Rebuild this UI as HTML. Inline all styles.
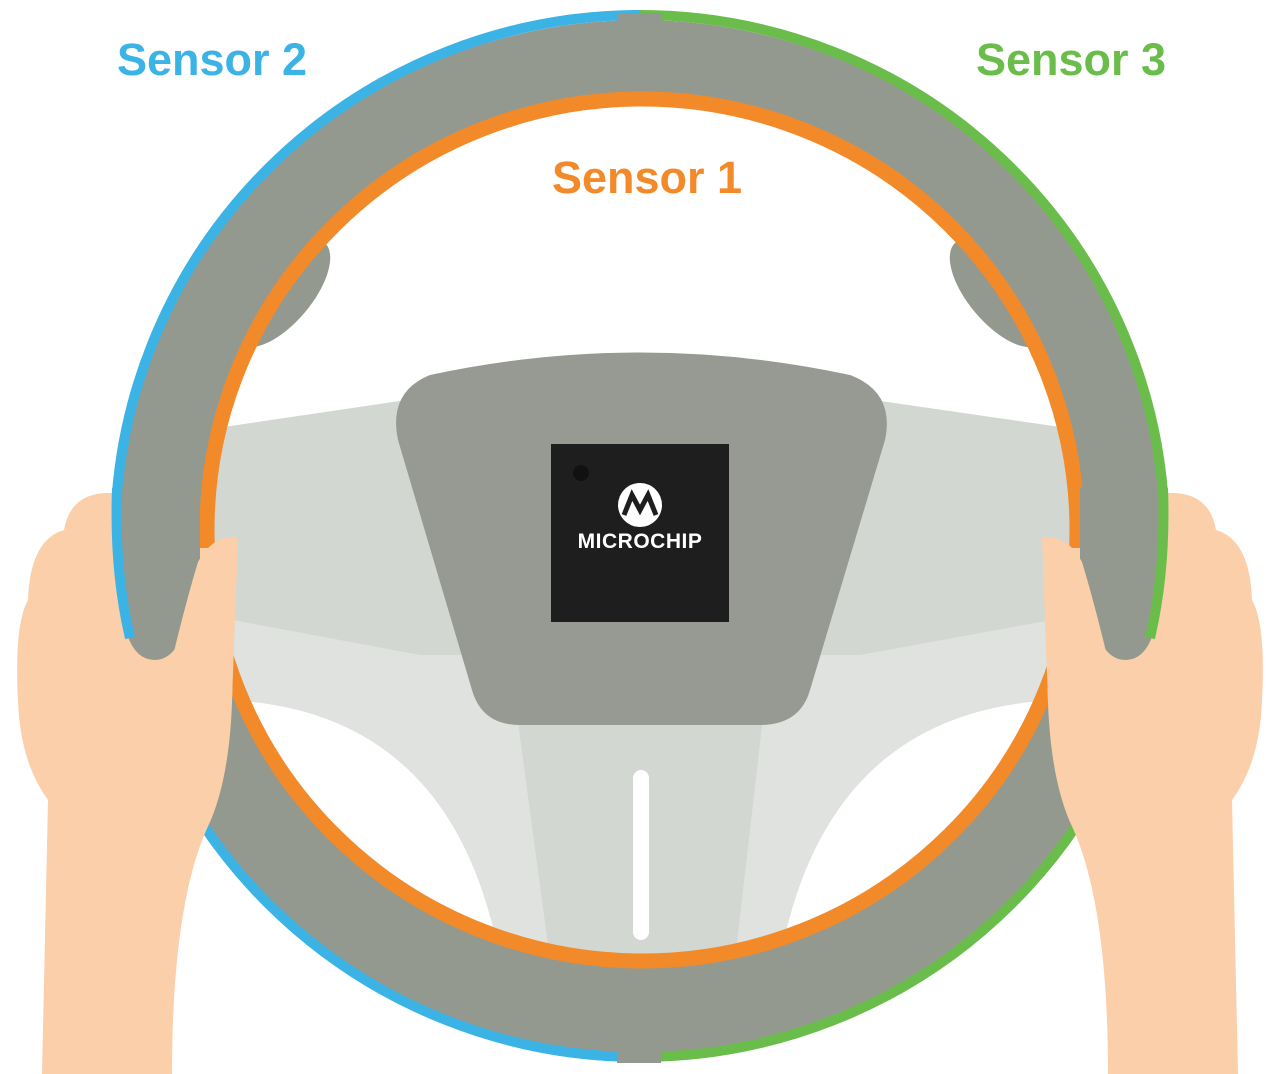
<!DOCTYPE html>
<html><head><meta charset="utf-8"><style>
html,body{margin:0;padding:0;background:#fff;}
svg{display:block;}
text{font-family:"Liberation Sans",sans-serif;font-weight:bold;}
</style></head><body>
<svg width="1280" height="1074" viewBox="0 0 1280 1074" xmlns="http://www.w3.org/2000/svg">
<defs>
<clipPath id="inner"><ellipse cx="642" cy="530" rx="428" ry="424"/></clipPath>
<g id="hand">
  <path d="M105 493 Q70 495 64 530 Q30 540 28 600 Q14 625 18 700 Q20 762 48 800 L42 1074 L172 1074 Q172 900 210 822 Q236 762 232 645 L236 548 L200 548 L150 493 Z" fill="#FACFAA"/>
</g>
<g id="grip">
  <path d="M121 488 L200 488 L200 565 Q188 660 155 660 Q128 660 122 610 Z" fill="#949990"/>
</g>
</defs>
<ellipse cx="640" cy="538" rx="522" ry="518" fill="#949990"/>
<path d="M640 15 A525 521 0 0 0 640 1057" fill="none" stroke="#3BB3E4" stroke-width="10"/>
<path d="M640 15 A525 521 0 0 1 640 1057" fill="none" stroke="#6BBD4B" stroke-width="10"/>
<rect x="617" y="13" width="44" height="22" fill="#949990"/>
<rect x="617" y="1040" width="44" height="23" fill="#949990"/>
<ellipse cx="642" cy="530" rx="428" ry="424" fill="#fff"/>
<g clip-path="url(#inner)">
  <path d="M190 612 L1095 612 L1095 700 Q830 690 780 960 L500 960 Q450 690 190 700 Z" fill="#DFE2DF"/>
  <path d="M190 432 L420 398 L860 398 L1095 432 L1095 612 L860 655 L420 655 L190 612 Z" fill="#D3D7D2"/>
  <path d="M515 700 L765 700 L735 960 L550 960 Z" fill="#D3D7D2"/>
</g>
<ellipse cx="282" cy="293" rx="30" ry="66" transform="rotate(40 282 293)" fill="#949990"/>
<ellipse cx="998" cy="293" rx="30" ry="66" transform="rotate(-40 998 293)" fill="#949990"/>
<path d="M430 375 Q640 330 850 375 Q895 392 885 440 L810 690 Q800 725 760 725 L520 725 Q482 725 472 690 L398 440 Q388 392 430 375 Z" fill="#969A92"/>
<rect x="633" y="770" width="16" height="170" rx="8" fill="#fff"/>
<ellipse cx="642" cy="530" rx="435" ry="431" fill="none" stroke="#F28A2A" stroke-width="15"/>
<rect x="551" y="444" width="178" height="178" fill="#1E1E1E"/>
<circle cx="581" cy="473" r="8" fill="#111"/>
<circle cx="640" cy="505" r="22" fill="#fff"/>
<path d="M624 515 L632 495 L640 510 L648 495 L656 515" fill="none" stroke="#1E1E1E" stroke-width="5"/>
<text x="640" y="548" text-anchor="middle" font-size="21" fill="#fff" letter-spacing="0.5">MICROCHIP</text>
<use href="#hand"/>
<use href="#grip"/>
<path d="M117 488 Q114 570 130 638" fill="none" stroke="#3BB3E4" stroke-width="10"/>
<path d="M238 537 Q212 535 198 562 Q185 605 172 660 L182 700 L232 700 Z" fill="#FACFAA"/>
<g transform="translate(1280,0) scale(-1,1)">
<use href="#hand"/>
<use href="#grip"/>
<path d="M117 488 Q114 570 130 638" fill="none" stroke="#6BBD4B" stroke-width="10"/>
<path d="M238 537 Q212 535 198 562 Q185 605 172 660 L182 700 L232 700 Z" fill="#FACFAA"/>
</g>
<text x="117" y="75" font-size="45" fill="#3BB3E4">Sensor 2</text>
<text x="976" y="75" font-size="45" fill="#6BBD4B">Sensor 3</text>
<text x="552" y="193" font-size="45" fill="#F28A2A">Sensor 1</text>
</svg>
</body></html>
